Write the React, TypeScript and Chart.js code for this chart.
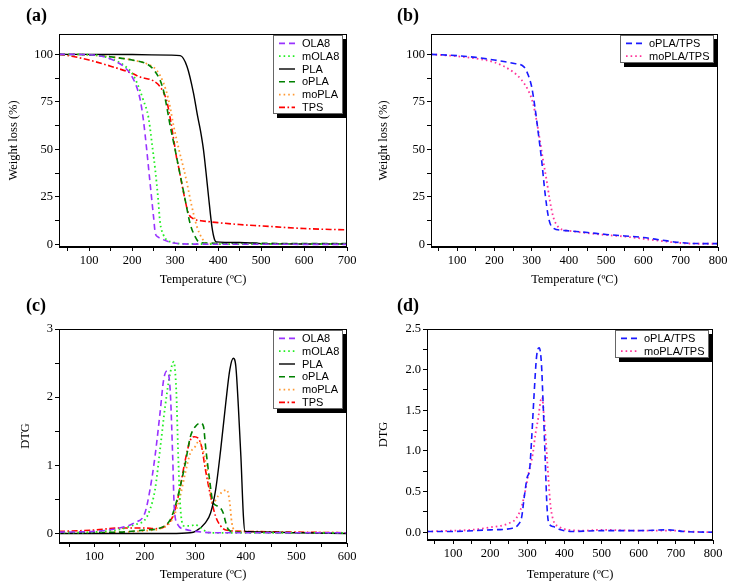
import React, { useEffect, useRef } from "react";
import { Chart, registerables } from "chart.js";
Chart.register(...registerables);

const SERIF = '"Liberation Serif", "Times New Roman", serif';
const SANS = '"Liberation Sans", Arial, sans-serif';

// ---------- tick arrays ----------
const xTicks700 = [50, 100, 150, 200, 250, 300, 350, 400, 450, 500, 550, 600, 650, 700];
const xTicks800 = [50, 100, 150, 200, 250, 300, 350, 400, 450, 500, 550, 600, 650, 700, 750, 800];
const xTicks600 = [50, 100, 150, 200, 250, 300, 350, 400, 450, 500, 550, 600];
const yTicksTGA = [0, 12.5, 25, 37.5, 50, 62.5, 75, 87.5, 100];
const yTicksDTGc = [0, 0.5, 1, 1.5, 2, 2.5, 3];
const yTicksDTGd = [0, 0.25, 0.5, 0.75, 1, 1.25, 1.5, 1.75, 2, 2.25, 2.5];

// ---------- (a) TGA ----------
const tA_OLA8 = [30, 100, 150, 188, 203, 212, 219, 226, 234, 242, 250, 254, 260, 270, 296, 350, 700];
const wA_OLA8 = [100, 99.8, 97.5, 92, 87, 82, 76, 66, 50, 32, 14.5, 6, 4, 2.8, 0.8, 0.2, 0.1];
const tA_mOLA8 = [30, 100, 150, 188, 203, 215, 226, 238, 248, 254, 261, 265, 273, 281, 296, 304, 330, 700];
const wA_mOLA8 = [100, 99.8, 97.8, 93, 89, 83, 76, 67, 50, 39, 23, 12, 5, 2.3, 1.2, 0.6, 0.3, 0.2];
const tA_PLA = [30, 200, 290, 312, 328, 343, 352, 359, 366, 372, 378, 386, 392, 396, 450, 500, 600, 700];
const wA_PLA = [100, 99.9, 99.6, 99.3, 93.5, 79.5, 68, 60, 50, 38, 25, 9, 2.5, 1.4, 1.1, 0.5, 0.3, 0.3];
const tA_oPLA = [30, 100, 150, 200, 234, 250, 265, 273, 281, 289, 300, 308, 316, 324, 335, 347, 355, 370, 400, 700];
const wA_oPLA = [100, 99.7, 98.7, 97, 95, 92, 86.5, 81, 72, 62, 50, 41, 32, 23, 11, 4, 1.4, 0.8, 0.7, 0.5];
const tA_moPLA = [30, 100, 150, 200, 240, 257, 273, 285, 297, 310, 320, 328, 338, 351, 363, 375, 400, 700];
const wA_moPLA = [100, 99.7, 98.7, 97, 94.5, 91.7, 85, 76, 62, 49, 40, 32, 21, 9.3, 3.2, 0.6, 0.4, 0.3];
const tA_TPS = [30, 60, 100, 150, 200, 220, 250, 265, 280, 289, 297, 304, 308, 320, 331, 343, 351, 360, 400, 450, 500, 600, 700];
const wA_TPS = [100, 99, 97, 93.8, 90, 88, 86, 83, 76, 66, 55, 45, 41, 27, 16.5, 13.5, 12.8, 12.5, 11.5, 10.5, 9.8, 8.4, 7.7];

// ---------- (b) TGA blends ----------
const tB_oPLATPS = [30, 100, 150, 200, 250, 280, 291, 300, 309, 318, 327, 336, 345, 354, 380, 400, 450, 500, 550, 600, 650, 700, 750, 800];
const wB_oPLATPS = [100, 99.3, 98.4, 97, 95.3, 93.3, 89, 83, 72, 58.4, 44, 27, 14.5, 9.3, 7.5, 7.2, 6.3, 5.3, 4.5, 3.7, 2.3, 1, 0.5, 0.5];
const tB_moPLATPS = [30, 100, 150, 200, 250, 273, 291, 304, 313, 322, 331, 340, 349, 358, 371, 389, 400, 450, 500, 550, 600, 650, 700, 750, 800];
const wB_moPLATPS = [100, 99, 97.8, 95.8, 90.8, 86.5, 81, 74, 65.4, 55, 44, 34, 23, 14.5, 9.3, 7.5, 7.2, 6, 5, 4.2, 3, 1.8, 0.8, 0.4, 0.4];

// ---------- (c) DTG ----------
const tC_OLA8 = [30, 100, 150, 180, 200, 210, 220, 230, 237, 243, 250, 255, 258, 265, 280, 300, 350, 600];
const dC_OLA8 = [0.02, 0.03, 0.08, 0.16, 0.3, 0.64, 1.13, 1.77, 2.25, 2.38, 2.11, 1.13, 0.4, 0.13, 0.06, 0.03, 0.01, 0.01];
const tC_mOLA8 = [30, 100, 150, 180, 200, 210, 220, 230, 240, 250, 257, 262, 266, 270, 278, 290, 300, 310, 330, 600];
const dC_mOLA8 = [0.01, 0.02, 0.06, 0.13, 0.2, 0.35, 0.64, 1.23, 1.86, 2.35, 2.52, 2.11, 1.13, 0.4, 0.11, 0.11, 0.13, 0.08, 0.01, 0.01];
const tC_PLA = [30, 250, 290, 300, 320, 330, 340, 350, 360, 368, 375, 380, 385, 390, 395, 398, 450, 500, 600];
const dC_PLA = [0, 0, 0.01, 0.03, 0.16, 0.3, 0.64, 1.23, 1.91, 2.4, 2.57, 2.45, 1.86, 1.13, 0.25, 0.03, 0.02, 0.01, 0];
const tC_oPLA = [30, 150, 200, 230, 250, 260, 270, 280, 290, 300, 310, 316, 320, 328, 335, 345, 355, 360, 365, 380, 600];
const dC_oPLA = [0.01, 0.02, 0.05, 0.08, 0.2, 0.4, 0.69, 1.03, 1.42, 1.57, 1.62, 1.57, 1.28, 0.79, 0.45, 0.4, 0.3, 0.16, 0.06, 0.02, 0.01];
const tC_moPLA = [30, 150, 200, 230, 250, 260, 270, 280, 290, 300, 306, 315, 325, 335, 345, 355, 362, 368, 372, 380, 600];
const dC_moPLA = [0.01, 0.02, 0.04, 0.07, 0.16, 0.3, 0.55, 0.89, 1.18, 1.28, 1.35, 1.23, 0.84, 0.45, 0.55, 0.62, 0.64, 0.45, 0.16, 0.03, 0.01];
const tC_TPS = [30, 100, 150, 200, 220, 250, 260, 270, 280, 290, 298, 305, 312, 320, 330, 340, 350, 360, 400, 500, 600];
const dC_TPS = [0.03, 0.05, 0.08, 0.08, 0.07, 0.18, 0.35, 0.69, 1.08, 1.37, 1.42, 1.4, 1.28, 0.93, 0.55, 0.25, 0.11, 0.05, 0.03, 0.02, 0.01];

// ---------- (d) DTG blends ----------
const tD_oPLATPS = [30, 100, 200, 260, 275, 285, 292, 300, 306, 312, 318, 325, 332, 338, 343, 348, 353, 358, 370, 390, 420, 500, 600, 680, 720, 800];
const dD_oPLATPS = [0.01, 0.01, 0.03, 0.05, 0.09, 0.19, 0.44, 0.68, 0.76, 1.17, 1.67, 2.16, 2.27, 2.08, 1.54, 0.93, 0.32, 0.11, 0.07, 0.03, 0.01, 0.02, 0.02, 0.03, 0.01, 0];
const tD_moPLATPS = [30, 100, 150, 200, 250, 270, 285, 295, 305, 315, 322, 330, 336, 340, 345, 350, 356, 362, 370, 385, 400, 450, 500, 600, 700, 730, 800];
const dD_moPLATPS = [0.01, 0.02, 0.03, 0.06, 0.11, 0.17, 0.32, 0.52, 0.76, 0.97, 1.21, 1.42, 1.62, 1.66, 1.42, 1.13, 0.72, 0.35, 0.15, 0.07, 0.04, 0.02, 0.03, 0.02, 0.02, 0.01, 0];

// ---------- styles ----------
const DASH = [6, 4];
const DOT = [1.6, 3];
const DASHDOT = [6, 2.5, 1.6, 2.5];

type Series = { label: string; t: number[]; v: number[]; color: string; dash: number[]; width: number };
type PanelCfg = {
  tag: string;
  left: number; top: number; w: number; h: number;
  tagX: number; tagY: number;
  area: { l: number; t: number; r: number; b: number };
  xMin: number; xMax: number; xTicks: number[];
  yMin: number; yMax: number; yTicks: number[];
  yLabel: (v: number) => string;
  yTitle: string; yTitlePad: number; xTitlePad: number;
  series: Series[];
};

const seriesA: Series[] = [
  { label: "OLA8", t: tA_OLA8, v: wA_OLA8, color: "#9933ff", dash: DASH, width: 1.6 },
  { label: "mOLA8", t: tA_mOLA8, v: wA_mOLA8, color: "#22ee22", dash: DOT, width: 1.8 },
  { label: "PLA", t: tA_PLA, v: wA_PLA, color: "#000000", dash: [], width: 1.4 },
  { label: "oPLA", t: tA_oPLA, v: wA_oPLA, color: "#008000", dash: DASH, width: 1.6 },
  { label: "moPLA", t: tA_moPLA, v: wA_moPLA, color: "#ff9933", dash: DOT, width: 1.8 },
  { label: "TPS", t: tA_TPS, v: wA_TPS, color: "#ff0000", dash: DASHDOT, width: 1.6 },
];
const seriesB: Series[] = [
  { label: "oPLA/TPS", t: tB_oPLATPS, v: wB_oPLATPS, color: "#1a1aff", dash: DASH, width: 1.6 },
  { label: "moPLA/TPS", t: tB_moPLATPS, v: wB_moPLATPS, color: "#ff3399", dash: DOT, width: 1.8 },
];
const seriesC: Series[] = [
  { label: "OLA8", t: tC_OLA8, v: dC_OLA8, color: "#9933ff", dash: DASH, width: 1.6 },
  { label: "mOLA8", t: tC_mOLA8, v: dC_mOLA8, color: "#22ee22", dash: DOT, width: 1.8 },
  { label: "PLA", t: tC_PLA, v: dC_PLA, color: "#000000", dash: [], width: 1.4 },
  { label: "oPLA", t: tC_oPLA, v: dC_oPLA, color: "#008000", dash: DASH, width: 1.6 },
  { label: "moPLA", t: tC_moPLA, v: dC_moPLA, color: "#ff9933", dash: DOT, width: 1.8 },
  { label: "TPS", t: tC_TPS, v: dC_TPS, color: "#ff0000", dash: DASHDOT, width: 1.6 },
];
const seriesD: Series[] = [
  { label: "oPLA/TPS", t: tD_oPLATPS, v: dD_oPLATPS, color: "#1a1aff", dash: DASH, width: 1.6 },
  { label: "moPLA/TPS", t: tD_moPLATPS, v: dD_moPLATPS, color: "#ff3399", dash: DOT, width: 1.8 },
];

const panels: PanelCfg[] = [
  {
    tag: "(a)", left: 0, top: 0, w: 365, h: 290, tagX: 26, tagY: 5,
    area: { l: 59, t: 34, r: 347, b: 247 },
    xMin: 30, xMax: 700, xTicks: xTicks700,
    yMin: -1.3, yMax: 110.7, yTicks: yTicksTGA,
    yLabel: (v) => (v % 25 === 0 ? String(v) : ""),
    yTitle: "Weight loss (%)", yTitlePad: 6, xTitlePad: 3,
    series: seriesA,
  },
  {
    tag: "(b)", left: 365, top: 0, w: 366, h: 290, tagX: 397, tagY: 5,
    area: { l: 431, t: 34, r: 718, b: 247 },
    xMin: 30, xMax: 800, xTicks: xTicks800,
    yMin: -1.3, yMax: 110.7, yTicks: yTicksTGA,
    yLabel: (v) => (v % 25 === 0 ? String(v) : ""),
    yTitle: "Weight loss (%)", yTitlePad: 11, xTitlePad: 2.5,
    series: seriesB,
  },
  {
    tag: "(c)", left: 0, top: 290, w: 365, h: 297, tagX: 26, tagY: 295,
    area: { l: 59, t: 329, r: 347, b: 543 },
    xMin: 30, xMax: 600, xTicks: xTicks600,
    yMin: -0.14, yMax: 3, yTicks: yTicksDTGc,
    yLabel: (v) => (Number.isInteger(v) ? String(v) : ""),
    yTitle: "DTG", yTitlePad: 18, xTitlePad: 4.5,
    series: seriesC,
  },
  {
    tag: "(d)", left: 365, top: 290, w: 366, h: 297, tagX: 397, tagY: 295,
    area: { l: 427, t: 329, r: 713, b: 540 },
    xMin: 30, xMax: 800, xTicks: xTicks800,
    yMin: -0.095, yMax: 2.5, yTicks: yTicksDTGd,
    yLabel: (v) => (Math.abs(v * 2 - Math.round(v * 2)) < 1e-9 ? v.toFixed(1) : ""),
    yTitle: "DTG", yTitlePad: 11, xTitlePad: 4.5,
    series: seriesD,
  },
];

function Panel({ cfg }: { cfg: PanelCfg }) {
  const ref = useRef<HTMLCanvasElement | null>(null);
  useEffect(() => {
    const canvas = ref.current;
    if (!canvas) return;
    const yW = cfg.area.l - cfg.left;
    const xH = cfg.top + cfg.h - cfg.area.b;
    const padTop = cfg.area.t - cfg.top;
    const padRight = cfg.left + cfg.w - cfg.area.r;

    const framePlugin = {
      id: "frameLegend",
      afterDatasetsDraw(chart: any) {
        const { ctx, chartArea } = chart;
        const { left, top, right, bottom } = chartArea;
        ctx.save();
        ctx.setLineDash([]);
        ctx.strokeStyle = "#000";
        ctx.lineWidth = 1;
        ctx.strokeRect(Math.round(left) + 0.5, Math.round(top) + 0.5, Math.round(right - left) - 1, Math.round(bottom - top) - 1);

        // legend box
        ctx.font = `11px ${SANS}`;
        const rowH = 12.8;
        let maxW = 0;
        cfg.series.forEach((s) => { maxW = Math.max(maxW, ctx.measureText(s.label).width); });
        const bw = Math.round(29 + maxW + 4);
        const bh = Math.round(cfg.series.length * rowH + 2);
        const bx = Math.round(right) - 4 - bw;
        const by = Math.round(top) + 1;
        ctx.fillStyle = "#000";
        ctx.fillRect(bx + 4, by + 4, bw, bh);
        ctx.fillStyle = "#fff";
        ctx.fillRect(bx, by, bw, bh);
        ctx.strokeStyle = "#666";
        ctx.strokeRect(bx + 0.5, by + 0.5, bw - 1, bh - 1);
        cfg.series.forEach((s, i) => {
          const cy = by + 2 + rowH * (i + 0.5);
          ctx.beginPath();
          ctx.setLineDash(s.dash);
          ctx.strokeStyle = s.color;
          ctx.lineWidth = s.width;
          ctx.moveTo(bx + 6, cy);
          ctx.lineTo(bx + 22, cy);
          ctx.stroke();
          ctx.setLineDash([]);
          ctx.fillStyle = "#000";
          ctx.textBaseline = "middle";
          ctx.textAlign = "left";
          ctx.fillText(s.label, bx + 29, cy + 0.5);
        });
        ctx.restore();
      },
    };

    const tickFont = { family: SERIF, size: 12.5 };
    const chart = new Chart(canvas, {
      type: "line",
      data: {
        datasets: cfg.series.map((s) => ({
          label: s.label,
          data: s.t.map((x, i) => ({ x, y: s.v[i] })),
          borderColor: s.color,
          backgroundColor: s.color,
          borderDash: s.dash,
          borderWidth: s.width,
          pointRadius: 0,
          fill: false,
          cubicInterpolationMode: "monotone",
        })),
      },
      options: {
        responsive: false,
        animation: false,
        devicePixelRatio: 1,
        layout: { padding: { top: padTop, right: padRight, left: 0, bottom: 0 } },
        plugins: { legend: { display: false }, tooltip: { enabled: false } },
        scales: {
          x: {
            type: "linear",
            min: cfg.xMin,
            max: cfg.xMax,
            afterBuildTicks: (ax: any) => { ax.ticks = cfg.xTicks.map((v) => ({ value: v })); },
            afterFit: (ax: any) => { ax.height = xH; },
            grid: { drawOnChartArea: false, drawTicks: true, tickLength: 4, color: "#000", lineWidth: 1 },
            border: { display: true, color: "#000", width: 1 },
            ticks: {
              autoSkip: false, maxRotation: 0, minRotation: 0, padding: 2, color: "#000", font: tickFont,
              callback: (v: any) => (Number(v) % 100 === 0 ? String(v) : ""),
            },
            title: {
              display: true, text: "Temperature (ºC)", color: "#000",
              font: { family: SERIF, size: 12.5 }, padding: { top: 0, bottom: cfg.xTitlePad },
            },
          },
          y: {
            type: "linear",
            min: cfg.yMin,
            max: cfg.yMax,
            afterBuildTicks: (ax: any) => { ax.ticks = cfg.yTicks.map((v) => ({ value: v })); },
            afterFit: (ax: any) => { ax.width = yW; },
            grid: { drawOnChartArea: false, drawTicks: true, tickLength: 4, color: "#000", lineWidth: 1 },
            border: { display: true, color: "#000", width: 1 },
            ticks: {
              autoSkip: false, padding: 2, color: "#000", font: tickFont,
              callback: (v: any) => cfg.yLabel(Number(v)),
            },
            title: {
              display: true, text: cfg.yTitle, color: "#000",
              font: { family: SERIF, size: 12.5 }, padding: { top: cfg.yTitlePad, bottom: 0 },
            },
          },
        },
      },
      plugins: [framePlugin],
    } as any);
    return () => chart.destroy();
  }, [cfg]);

  return (
    <>
      <canvas
        ref={ref}
        width={cfg.w}
        height={cfg.h}
        style={{ position: "absolute", left: cfg.left, top: cfg.top, width: cfg.w, height: cfg.h }}
      />
      <div
        style={{
          position: "absolute",
          left: cfg.tagX,
          top: cfg.tagY,
          font: `bold 18px ${SERIF}`,
          lineHeight: "20px",
          color: "#000",
        }}
      >
        {cfg.tag}
      </div>
    </>
  );
}

export default function App() {
  return (
    <div style={{ position: "absolute", left: 0, top: 0, width: 731, height: 587, background: "#fff", overflow: "hidden" }}>
      {panels.map((p) => (
        <Panel key={p.tag} cfg={p} />
      ))}
    </div>
  );
}
